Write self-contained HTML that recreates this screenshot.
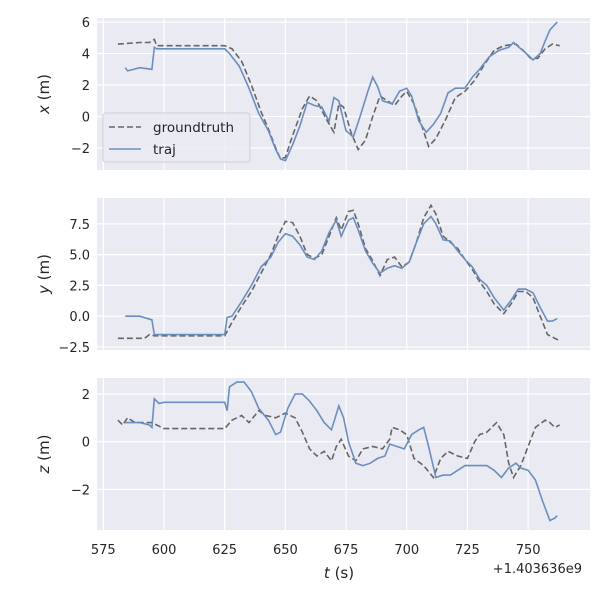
<!DOCTYPE html>
<html><head><meta charset="utf-8"><style>
body{margin:0;background:#fff}
svg text{font-family:"DejaVu Sans","Liberation Sans",sans-serif;fill:#262626}
</style></head><body>
<svg id="c" width="600" height="600" xmlns="http://www.w3.org/2000/svg"></svg>
<script>
const xTicks=[575,600,625,650,675,700,725,750];
const xGtT=[581,590,594,596,597,625,628,632,636,640,643,646,648,650,653,657,660,663,667,670,672,674,677,680,683,686,689,692,695,698,700,703,706,709,712,716,720,724,728,732,736,740,745,748,751,754,757,760,763];
const xGtV=[4.6,4.7,4.7,4.9,4.5,4.5,4.3,3.5,2,0.3,-0.8,-2,-2.7,-2.6,-1.2,0.5,1.3,1.0,-0.2,-1.0,0.8,0.6,-1.0,-2.1,-1.5,0,1.3,1.0,0.7,1.3,1.6,0.8,-0.5,-1.9,-1.4,-0.2,1.2,1.6,2.3,3.3,4.2,4.5,4.6,4.2,3.7,3.7,4.3,4.6,4.5];
const xTrT=[584,585,590,595,596,597,625,627,631,635,639,643,646,648,650,653,656,659,662,665,668,670,672,675,678,681,684,686,688,690,692,694,697,700,702,705,708,711,714,717,720,724,727,730,734,738,742,744,747,750,752,755,757,759,762];
const xTrV=[3.1,2.9,3.1,3.0,4.4,4.3,4.3,4.0,3.2,1.8,0.2,-0.9,-2.1,-2.7,-2.8,-1.8,-0.6,0.9,0.7,0.6,-0.3,1.2,1.0,-0.9,-1.3,0.1,1.6,2.5,1.9,1.0,0.9,0.8,1.6,1.8,1.3,-0.3,-1.0,-0.5,0.2,1.5,1.8,1.8,2.5,3.0,3.8,4.2,4.4,4.7,4.3,3.9,3.6,4.0,4.8,5.5,6.0];
const yGtT=[581,592,594,596,625,628,632,636,640,644,647,650,653,656,659,662,665,668,671,673,676,678,680,683,686,689,692,695,698,701,704,707,710,712,715,718,721,724,727,730,733,736,740,743,746,749,752,755,758,761,763];
const yGtV=[-1.8,-1.8,-1.5,-1.6,-1.6,-0.5,0.8,2.0,3.5,5.0,6.5,7.7,7.6,6.5,5.0,4.7,5.0,6.5,8.0,7.0,8.5,8.6,7.5,5.5,4.5,3.3,4.6,4.8,4.0,4.4,6.0,8.0,9.0,8.3,6.5,6.0,5.5,4.6,3.8,2.8,2.0,1.0,0.2,1.0,2.0,2.0,1.5,0,-1.5,-1.8,-2.0];
const yTrT=[584,590,595,596,625,626,628,632,636,640,644,647,650,653,656,659,662,665,668,671,673,676,678,680,683,686,689,692,695,698,701,704,707,710,712,715,718,721,724,727,730,733,736,740,743,746,749,752,755,758,760,762];
const yTrV=[0,0,-0.3,-1.5,-1.5,-0.1,0,1.2,2.5,4.0,4.8,6.0,6.7,6.5,5.8,4.8,4.6,5.3,6.8,7.8,6.5,7.8,8.0,7.0,5.3,4.3,3.5,3.9,4.1,3.9,4.4,6.0,7.5,8.1,7.5,6.2,6.1,5.3,4.6,4.0,3.0,2.5,1.5,0.5,1.3,2.2,2.2,1.9,0.7,-0.4,-0.4,-0.2];
const zGtT=[581,583,585,588,595,600,625,628,632,635,639,642,646,650,654,657,660,663,666,669,671,673,676,679,682,686,690,693,694,697,700,703,707,711,714,717,721,725,728,730,733,737,740,742,744,747,750,753,757,759,761,763];
const zGtV=[0.9,0.7,1.0,0.8,0.8,0.55,0.55,0.9,1.1,0.8,1.3,1.1,1.0,1.2,1.0,0.4,-0.3,-0.6,-0.4,-0.8,-0.2,0.1,-0.6,-0.8,-0.3,-0.2,-0.3,0.1,0.6,0.5,0.3,-0.7,-1.0,-1.5,-0.7,-0.4,-0.6,-0.7,0.0,0.3,0.4,0.8,0.3,-0.9,-1.5,-1.0,-0.2,0.6,0.9,0.8,0.6,0.7];
const zTrT=[584,590,594,595,596,598,600,625,626,627,630,633,636,639,643,646,648,651,654,657,660,663,666,669,672,674,676,679,682,685,688,691,693,696,699,702,705,707,709,712,715,718,721,724,727,730,733,736,739,742,745,747,750,753,756,759,761,762];
const zTrV=[0.8,0.8,0.7,0.6,1.8,1.6,1.65,1.65,1.3,2.3,2.5,2.5,2.1,1.4,0.9,0.3,0.4,1.4,2.0,2.0,1.7,1.3,0.8,0.5,1.5,1.0,0,-0.9,-1.0,-0.9,-0.7,-0.6,-0.1,-0.2,-0.3,0.3,0.5,0.6,-0.2,-1.5,-1.4,-1.4,-1.2,-1.0,-1.0,-1.0,-1.0,-1.2,-1.5,-1.1,-0.9,-1.1,-1.2,-1.6,-2.5,-3.3,-3.2,-3.1];
const panels=[
 {name:'x',top:18,bot:170,vmax:6.26,vmin:-3.4,ticks:[-2,0,2,4,6],labels:['−2','0','2','4','6'],gtT:xGtT,gtV:xGtV,trT:xTrT,trV:xTrV},
 {name:'y',top:198,bot:350,vmax:9.6,vmin:-2.75,ticks:[-2.5,0,2.5,5,7.5],labels:['−2.5','0.0','2.5','5.0','7.5'],gtT:yGtT,gtV:yGtV,trT:yTrT,trV:yTrV},
 {name:'z',top:378,bot:530,vmax:2.67,vmin:-3.7,ticks:[-2,0,2],labels:['−2','0','2'],gtT:zGtT,gtV:zGtV,trT:zTrT,trV:zTrV}
];
const L=97,R=590,T0=572.4,T1=775.5;
const sx=t=>L+(t-T0)/(T1-T0)*(R-L);
const svg=document.getElementById('c');const NS='http://www.w3.org/2000/svg';
function mk(tag,a,p){const e=document.createElementNS(NS,tag);for(const k in a)e.setAttribute(k,a[k]);(p||svg).appendChild(e);return e;}
panels.forEach((p,i)=>{
 const sy=v=>p.top+(p.vmax-v)/(p.vmax-p.vmin)*(p.bot-p.top);
 const g=mk('g',{});
 
 
 const bg=mk('rect',{x:L,y:p.top,width:R-L,height:p.bot-p.top,fill:'#eaeaf2'},g);
 
 
 xTicks.forEach(t=>{const l=mk('line',{x1:sx(t),x2:sx(t),y1:p.top,y2:p.bot,stroke:'#fff','stroke-width':1.2},g);
  
  
  if(i==2){const tx=mk('text',{x:sx(t),y:554,'font-size':13,'text-anchor':'middle'},g);tx.textContent=t;
   
   }});
 p.ticks.forEach((v,k)=>{const l=mk('line',{x1:L,x2:R,y1:sy(v),y2:sy(v),stroke:'#fff','stroke-width':1.2},g);
  
  
  const tx=mk('text',{x:L-7,y:sy(v)+5,'font-size':13,'text-anchor':'end'},g);tx.textContent=p.labels[k];
  
  });
 const cy=(p.top+p.bot)/2;
 const yl=mk('text',{x:0,y:0,'font-size':15,'text-anchor':'middle',transform:`translate(49,${cy}) rotate(-90)`},g);
 yl.innerHTML=`<tspan font-style="italic">${p.name}</tspan> (m)`;
 
 
 const pts=(T,V)=>T.map((t,k)=>sx(t).toFixed(1)+','+sy(V[k]).toFixed(1)).join(' ');
 const gt=mk('polyline',{points:pts(p.gtT,p.gtV),fill:'none',stroke:'#666','stroke-width':1.6,'stroke-dasharray':'6,3'},g);
 
 
 const tr=mk('polyline',{points:pts(p.trT,p.trV),fill:'none',stroke:'#6c8ebf','stroke-width':1.6},g);
 
 
});
const xt=mk('text',{x:339,y:578,'font-size':15,'text-anchor':'middle'});
xt.innerHTML='<tspan font-style="italic">t</tspan> (s)';


const off=mk('text',{x:582,y:573,'font-size':13,'text-anchor':'end'});off.textContent='+1.403636e9';


const lg=mk('g',{});


mk('rect',{x:103,y:113,width:147,height:49,rx:3,fill:'#eaeaf2','fill-opacity':0.8,stroke:'#d0d0d8'},lg);
mk('line',{x1:109,x2:141,y1:127,y2:127,stroke:'#666','stroke-width':1.6,'stroke-dasharray':'6,3'},lg);
mk('line',{x1:109,x2:141,y1:149,y2:149,stroke:'#6c8ebf','stroke-width':1.6},lg);
const l1=mk('text',{x:153,y:132,'font-size':13.5},lg);l1.textContent='groundtruth';


const l2=mk('text',{x:153,y:154,'font-size':13.5},lg);l2.textContent='traj';


</script>
</body></html>
